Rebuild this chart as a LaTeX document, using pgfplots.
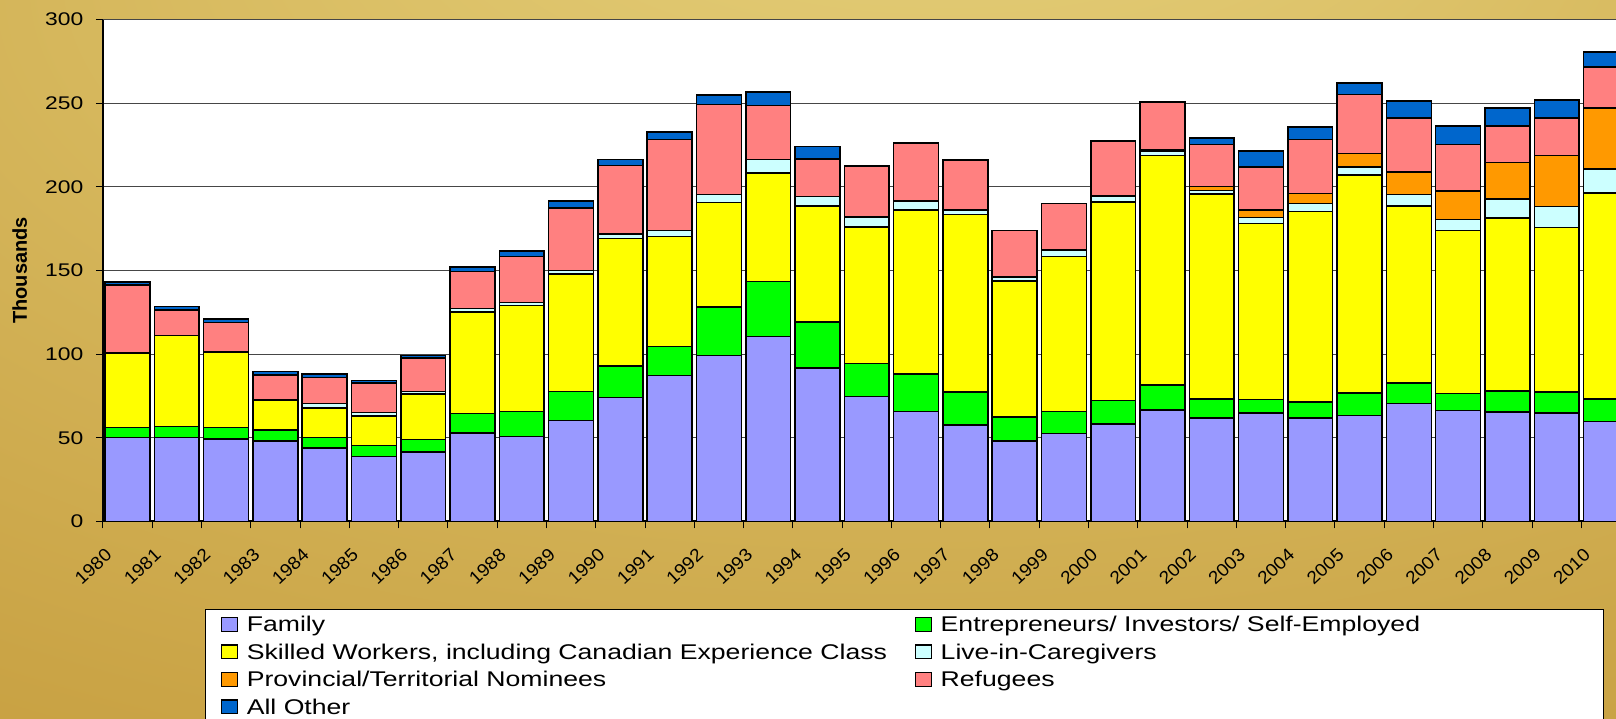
\documentclass[border=0pt]{standalone}
\usepackage{fontspec}
\setmainfont[FakeStretch=1.25]{Liberation Sans}
\newfontfamily\plainsans{Liberation Sans}
\newfontfamily\yearfont[FakeStretch=1.06]{Liberation Sans}
\usepackage{pgfplots}
\usepackage{pgfplotstable}
\pgfplotsset{compat=1.18}
\definecolor{cFam}{HTML}{9999FF}
\definecolor{cEnt}{HTML}{00FF00}
\definecolor{cSkl}{HTML}{FFFF00}
\definecolor{cCg}{HTML}{CCFFFF}
\definecolor{cPn}{HTML}{FF9900}
\definecolor{cRef}{HTML}{FF8080}
\definecolor{cOth}{HTML}{0066CC}
\definecolor{gridc}{RGB}{70,70,70}
\definecolor{bgA}{RGB}{232,212,128}
\definecolor{bgB}{RGB}{218,190,100}
\definecolor{bgC}{RGB}{202,164,70}
\definecolor{bgD}{RGB}{186,142,44}
\pgfdeclareradialshading{goldbg}{\pgfpoint{5bp}{42bp}}{color(0bp)=(bgA); color(20bp)=(bgB); color(45bp)=(bgC); color(72bp)=(bgD)}

\pgfplotstableread{
x  fam   ent   skl    cg    pn    ref   oth
0  50.2  5.9   44.7   0     0     40.5  1.7
1  50.2  6.6   54.2   0     0     15.4  2.1
2  49.3  6.8   45.3   0     0     17.5  2.1
3  48.2  6.5   17.5   0.5   0     14.9  1.9
4  43.8  6.4   17.5   2.8   0     15.5  2.0
5  38.9  6.4   17.7   2.1   0     17.5  1.5
6  41.6  7.5   27.1   1.5   0     19.9  1.7
7  52.9  11.6  60.8   1.9   0     22.2  2.6
8  50.8  15.0  63.4   1.7   0     27.5  3.2
9  60.2  17.6  70.2   2.1   0     37.3  4.1
10 74.1  18.8  76.2   2.8   0     41.0  3.6
11 87.1  17.5  65.6   3.8   0     54.4  4.3
12 99.3  28.8  62.5   4.7   0     53.8  5.8
13 110.6 32.9  64.7   8.1   0     32.4  8.1
14 91.8  27.3  69.4   5.8   0     22.4  7.5
15 74.7  19.7  81.7   6.0   0     30.3  0.3
16 65.8  22.4  98.0   5.3   0     34.4  0.4
17 57.6  19.9  106.1  2.6   0     29.9  0
18 48.0  14.3  81.4   2.5   0     27.8  0
19 52.7  13.1  92.6   3.9   0     27.7  0
20 58.3  13.9  118.9  3.2   0.4   32.7  0
21 66.6  15.0  137.2  2.2   1.1   28.3  0.4
22 61.9  11.3  122.6  2.1   2.4   24.9  3.9
23 64.7  8.3   105.1  3.5   4.6   25.8  9.4
24 61.9  9.6   113.8  4.7   6.0   32.4  7.5
25 63.4  13.5  130.2  4.7   8.1   35.2  7.1
26 70.5  12.1  105.9  6.8   13.5  32.4  10.1
27 66.2  10.2  97.6   6.4   17.1  27.7  11.3
28 65.5  12.4  103.6  11.1  22.0  21.9  10.7
29 64.7  12.6  98.4   12.6  30.5  22.4  10.7
30 59.8  13.4  123.2  14.3  36.5  24.6  8.9
}\imm

\begin{document}
\begin{tikzpicture}
\useasboundingbox (0pt,0pt) rectangle (1616pt,718pt);
\clip (0pt,0pt) rectangle (1616pt,718pt);
\shade[shading=goldbg] (0pt,0pt) rectangle (1616pt,718pt);
\filldraw[fill=white, draw=black, line width=1pt] (205pt,109pt) rectangle (1603pt,-30pt);
\begin{axis}[
  at={(102.9pt,196.6pt)}, anchor=south west,
  scale only axis, width=1527.75pt, height=501.8pt,
  xmin=-0.5, xmax=30.5, ymin=0, ymax=300,
  ybar stacked, bar width=0.91,
  axis background/.style={fill=white},
  axis x line*=bottom, axis y line*=left,
  x axis line style={line width=2pt,-},
  y axis line style={line width=1.5pt,-},
  ymajorgrids,
  major grid style={draw=gridc, line width=1pt},
  ytick={0,50,...,300},
  xtick={-0.5,0.5,...,29.5},
  xticklabels={1980,1981,1982,1983,1984,1985,1986,1987,1988,1989,1990,1991,1992,1993,1994,1995,1996,1997,1998,1999,2000,2001,2002,2003,2004,2005,2006,2007,2008,2009,2010},
  tick align=outside, major tick length=7pt,
  tick style={draw=black, line width=1pt},
  /pgf/number format/assume math mode=true,
  yticklabel style={font=\fontsize{18.3}{20}\selectfont, anchor=east, inner sep=0pt, xshift=-12.4pt},
  xticklabel style={font=\yearfont\fontsize{18}{20}\selectfont, inner sep=0pt, xshift=6pt, yshift=-23.5pt, rotate=43, anchor=east},
  ylabel={Thousands},
  every axis y label/.style={at={(axis description cs:-0.0545,0.5)}, rotate=90, anchor=center, font=\plainsans\bfseries\fontsize{20}{22}\selectfont},
  legend columns=2, legend cell align=left,
  legend style={at={(axis description cs:0.0773,-0.1861)}, anchor=north west, draw=none, fill=none, inner sep=0pt, row sep=8.7pt,
    font=\fontsize{21.3}{24}\selectfont,
    nodes={inner xsep=4pt, inner ysep=0pt, text height=17pt, text depth=1.8pt},
    /tikz/every odd column/.append style={column sep=4.3pt},
    /tikz/every even column/.append style={column sep=24pt}},
  mylegend/.style={legend image code/.code={\draw[##1, draw=black, line width=1.3pt] (0pt,-6.8pt) rectangle (16pt,6.8pt);}},
  every axis plot post/.append style={draw=black, line width=1.5pt, mylegend},
]
\addplot[fill=cFam] table[x=x,y=fam] {\imm};
\addplot[fill=cEnt] table[x=x,y=ent] {\imm};
\addplot[fill=cSkl] table[x=x,y=skl] {\imm};
\addplot[fill=cCg] table[x=x,y=cg] {\imm};
\addplot[fill=cPn] table[x=x,y=pn] {\imm};
\addplot[fill=cRef] table[x=x,y=ref] {\imm};
\addplot[fill=cOth] table[x=x,y=oth] {\imm};
\legend{Family, Entrepreneurs/ Investors/ Self-Employed, {Skilled Workers, including Canadian Experience Class}, Live-in-Caregivers, Provincial/Territorial Nominees, Refugees, All Other}
\end{axis}
\end{tikzpicture}
\end{document}
